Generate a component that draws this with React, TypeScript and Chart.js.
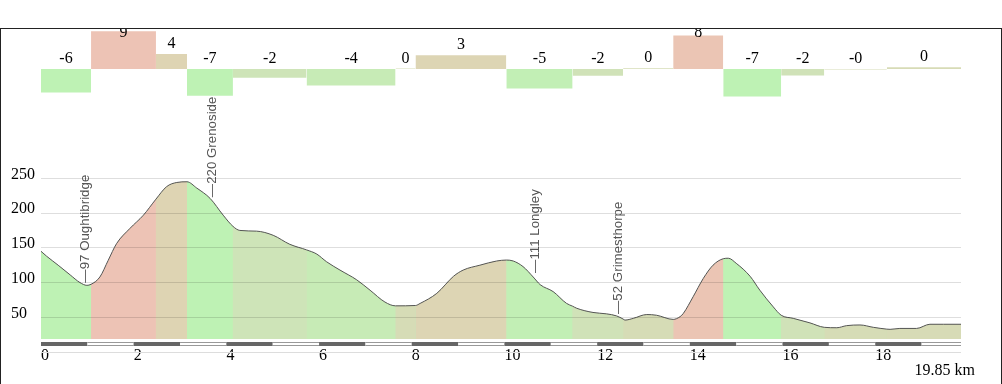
import React, { useEffect, useRef } from "react";
import { Chart, registerables } from "chart.js";

Chart.register(...registerables);

// ---- data ----
const totalKm = 19.85;
const profileKm = [
  0, 0.12, 0.37, 0.63, 0.84, 0.99, 1.08, 1.27, 1.45, 1.63, 1.92, 2.21, 2.48, 2.71, 2.93, 3.15,
  3.36, 3.65, 3.93, 4.14, 4.29, 4.65, 5.01, 5.37, 5.73, 5.95, 6.16, 6.45, 6.81, 7.1, 7.42, 7.65,
  8.08, 8.18, 8.54, 8.9, 9.11, 9.47, 9.83, 10.04, 10.19, 10.4, 10.62, 10.77, 11.05, 11.34, 11.47,
  11.56, 11.91, 12.2, 12.42, 12.56, 12.6, 12.78, 13.07, 13.28, 13.64, 13.79, 13.86, 14.07, 14.29,
  14.5, 14.72, 14.83, 15.0, 15.3, 15.51, 15.8, 15.97, 16.23, 16.59, 16.9, 17.17, 17.38, 17.67,
  17.96, 18.25, 18.32, 18.53, 18.89, 19.18, 19.47, 19.85,
];
const profileElev = [
  145, 138, 125, 111, 100, 96, 97.5, 108, 132, 156, 178, 197, 220, 238, 244, 245,
  236, 221, 197, 181, 175, 174, 168, 155, 147, 141, 130, 118, 104, 89, 72, 66.5,
  67, 70, 84.5, 109, 118, 125, 131, 132.4, 131, 123, 108, 97, 87, 70, 66,
  63, 57, 55, 52, 47.5, 46, 48.5, 54, 53, 47, 51, 55.7, 79.6, 106,
  125, 134.3, 135, 127.7, 109, 89, 65, 53, 48.5, 42, 35.6, 35, 38, 39,
  35.6, 33, 32.7, 34, 34, 40, 40, 40,
];
const sectionKm = [0, 1.08, 2.48, 3.15, 4.14, 5.73, 7.65, 8.08, 10.04, 11.47, 12.56, 13.64, 14.72, 15.97, 16.9, 18.25, 19.85];
const sectionGradient = [-5.9, 9.45, 3.75, -6.7, -2.2, -4.1, 0.1, 3.45, -4.9, -1.7, 0.2, 8.4, -6.9, -1.6, -0.1, 0.45];
const placeNames = ["Oughtibridge", "Grenoside", "Longley", "Grimesthorpe"];
const placeKm = [0.95, 3.7, 10.66, 12.45];
const placeElev = [97, 220, 111, 52];
const xTicks = [0, 2, 4, 6, 8, 10, 12, 14, 16, 18];
const yTicks = [50, 100, 150, 200, 250];

// ---- styles ----
const SERIF = '"Liberation Serif", "Times New Roman", serif';
const SANS = '"Liberation Sans", Arial, sans-serif';
const colorStops: [number, number[]][] = [
  [-6, [190, 242, 180]],
  [-5, [193, 239, 181]],
  [-4, [200, 234, 182]],
  [-2, [207, 227, 184]],
  [0, [214, 220, 182]],
  [3, [221, 213, 180]],
  [4, [222, 212, 179]],
  [8, [233, 198, 179]],
  [9, [237, 195, 181]],
];
function gradColor(g: number): string {
  if (g <= colorStops[0][0]) return `rgb(${colorStops[0][1].join(",")})`;
  for (let i = 1; i < colorStops.length; i++) {
    const [g1, c1] = colorStops[i];
    const [g0, c0] = colorStops[i - 1];
    if (g <= g1) {
      const t = (g - g0) / (g1 - g0);
      const c = c0.map((v, k) => Math.round(v + (c1[k] - v) * t));
      return `rgb(${c.join(",")})`;
    }
  }
  return `rgb(${colorStops[colorStops.length - 1][1].join(",")})`;
}
function sectionAt(km: number): number {
  let idx = 0;
  for (let i = 0; i < sectionGradient.length; i++) if (sectionKm[i] <= km) idx = i;
  return idx;
}

const overlay = {
  id: "overlay",
  afterDatasetsDraw(chart: any) {
    const { ctx, chartArea, scales } = chart;
    const xs = scales.x, ys = scales.y, gs = scales.g;
    ctx.save();
    // gradient labels
    ctx.font = `16px ${SERIF}`;
    ctx.fillStyle = "#000";
    ctx.textAlign = "center";
    ctx.textBaseline = "alphabetic";
    for (let i = 0; i < sectionGradient.length; i++) {
      const cx = (xs.getPixelForValue(sectionKm[i]) + xs.getPixelForValue(sectionKm[i + 1])) / 2;
      const top = Math.min(gs.getPixelForValue(0), gs.getPixelForValue(sectionGradient[i]));
      const y = Math.max(top - 6, 7.7);
      ctx.fillText(sectionGradient[i].toFixed(0), cx, y);
    }
    // place labels
    ctx.font = `13.3px ${SANS}`;
    ctx.fillStyle = "#555";
    ctx.textAlign = "left";
    ctx.textBaseline = "middle";
    for (let i = 0; i < placeNames.length; i++) {
      const px = xs.getPixelForValue(placeKm[i]);
      const py = ys.getPixelForValue(placeElev[i]) - 2;
      ctx.save();
      ctx.translate(px, py);
      ctx.rotate(-Math.PI / 2);
      ctx.fillText(`\u2014${placeElev[i]} ${placeNames[i]}`, 0, 0);
      ctx.restore();
    }
    // km scale bar
    const by = Math.round(chartArea.bottom + 3);
    for (let k = 0; k < Math.ceil(totalKm); k++) {
      const x0 = xs.getPixelForValue(k);
      const x1 = xs.getPixelForValue(Math.min(k + 1, totalKm));
      if (k % 2 === 0) {
        ctx.fillStyle = "#666";
        ctx.fillRect(x0, by, x1 - x0, 4);
      } else {
        ctx.fillStyle = "#999";
        ctx.fillRect(x0, by, x1 - x0, 4);
        ctx.fillStyle = "#fff";
        ctx.fillRect(x0, by + 1, x1 - x0, 2);
      }
    }
    ctx.fillStyle = "#ddd";
    ctx.fillRect(chartArea.left, Math.round(chartArea.bottom + 13), chartArea.right - chartArea.left, 1);
    // total distance
    ctx.font = `16px ${SERIF}`;
    ctx.fillStyle = "#000";
    ctx.textAlign = "right";
    ctx.textBaseline = "alphabetic";
    ctx.fillText(`${totalKm} km`, chartArea.right + 14, chartArea.bottom + 36);
    ctx.restore();
  },
};

export default function App() {
  const ref = useRef<HTMLCanvasElement>(null);
  useEffect(() => {
    const profile = profileKm.map((x, i) => ({ x, y: profileElev[i] }));
    const barSets = sectionGradient.map((g, i) => ({
      data: [
        { x: sectionKm[i], y: g },
        { x: sectionKm[i + 1], y: g },
      ],
      yAxisID: "g",
      fill: { value: 0 },
      backgroundColor: gradColor(g),
      borderColor: "rgba(0,0,0,0)",
      borderWidth: 0,
      pointRadius: 0,
      tension: 0,
    }));
    const chart = new Chart(ref.current!, {
      type: "line",
      data: {
        datasets: [
          ...barSets,
          {
            data: profile,
            yAxisID: "y",
            fill: "start",
            borderColor: "#555",
            borderWidth: 1,
            backgroundColor: gradColor(0),
            pointRadius: 0,
            cubicInterpolationMode: "monotone",
            segment: {
              backgroundColor: (c: any) =>
                gradColor(sectionGradient[sectionAt((c.p0.parsed.x + c.p1.parsed.x) / 2)]),
            },
          },
          {
            // underlay to hide anti-aliasing seams between coloured sections
            data: profile,
            yAxisID: "y",
            fill: "start",
            borderWidth: 0,
            borderColor: "rgba(0,0,0,0)",
            backgroundColor: gradColor(-2),
            pointRadius: 0,
            cubicInterpolationMode: "monotone",
          },
        ] as any,
      },
      options: {
        responsive: false,
        animation: false,
        events: [],
        layout: { padding: { left: 10, right: 40, top: 0, bottom: 0 } },
        plugins: { legend: { display: false }, tooltip: { enabled: false } },
        scales: {
          x: {
            type: "linear",
            min: 0,
            max: totalKm,
            grid: { display: false, drawTicks: false },
            border: { display: false },
            ticks: { align: "start", padding: 7, color: "#000", font: { family: SERIF, size: 16 }, maxRotation: 0, autoSkip: false },
            afterBuildTicks: (s: any) => {
              s.ticks = xTicks.map((v) => ({ value: v }));
            },
            afterFit: (s: any) => {
              s.height = 45;
              s.paddingLeft = 0;
              s.paddingRight = 0;
            },
          },
          y: {
            type: "linear",
            position: "left",
            min: 18.8,
            max: 464.8,
            grid: { color: "rgba(0,0,0,0.13)", drawTicks: false, z: 1 },
            border: { display: false },
            ticks: { crossAlign: "far", padding: 0, color: "#000", font: { family: SERIF, size: 16 }, labelOffset: -4 },
            afterBuildTicks: (s: any) => {
              s.ticks = yTicks.map((v) => ({ value: v }));
            },
            afterFit: (s: any) => {
              s.width = 30;
              s.paddingTop = 0;
              s.paddingBottom = 0;
            },
          },
          g: { type: "linear", display: false, min: -67.5, max: 10 },
        },
      } as any,
      plugins: [overlay],
    });
    return () => chart.destroy();
  }, []);
  return (
    <div
      style={{
        position: "absolute",
        left: 0,
        top: 28,
        width: 1002,
        height: 356,
        boxSizing: "border-box",
        borderTop: "1px solid #222",
        borderLeft: "1px solid #222",
        borderRight: "1px solid #222",
        background: "#fff",
      }}
    >
      <canvas ref={ref} width={1000} height={355} style={{ display: "block", width: 1000, height: 355 }} />
    </div>
  );
}
